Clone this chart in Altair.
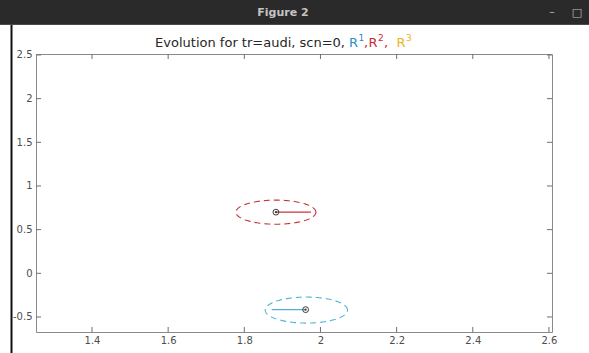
import numpy as np
import pandas as pd
import altair as alt

# Axis ticks
x_ticks = [1.4, 1.6, 1.8, 2.0, 2.2, 2.4, 2.6]
y_ticks = [-0.5, 0.0, 0.5, 1.0, 1.5, 2.0, 2.5]
x_domain = [1.253, 2.608]
y_domain = [-0.672, 2.511]

# Uncertainty ellipses (R^1 in cyan, R^2 in red)
ell_names = ["R1", "R2"]
ell_cx = [1.963, 1.883]
ell_cy = [-0.421, 0.700]
ell_rx = [0.108, 0.105]
ell_ry = [0.149, 0.138]
ell_colors = ["#4fb3d9", "#c9343f"]

# Current positions and their heading segments
pos_x = [1.961, 1.883]
pos_y = [-0.416, 0.700]
seg_x2 = [1.872, 1.975]
seg_colors = ["#4a4a4a", "#e0262e"]

W, H = 516, 278
FONT = "DejaVu Sans"

# ellipse outlines
rows = []
for name, cx, cy, rx, ry in zip(ell_names, ell_cx, ell_cy, ell_rx, ell_ry):
    for i, t in enumerate(np.linspace(0, 2 * np.pi, 181)):
        rows.append({"name": name, "i": i, "x": cx + rx * np.cos(t), "y": cy + ry * np.sin(t)})
ell_df = pd.DataFrame(rows)

pos_df = pd.DataFrame({"name": ell_names, "x": pos_x, "y": pos_y, "x2": seg_x2})

xs = alt.Scale(domain=x_domain, nice=False, zero=False)
ys = alt.Scale(domain=y_domain, nice=False, zero=False)

x_axis = alt.Axis(values=x_ticks, labelExpr="toString(datum.value)", ticks=False, domain=False,
                  grid=False, title=None, labelFont=FONT, labelFontSize=10, labelColor="#4d4d4d",
                  labelPadding=3)
y_axis = alt.Axis(values=y_ticks, labelExpr="toString(datum.value)", ticks=False, domain=False,
                  grid=False, title=None, labelFont=FONT, labelFontSize=10, labelColor="#4d4d4d",
                  labelPadding=4)

ellipses = alt.Chart(ell_df).mark_line(strokeDash=[6, 4], strokeWidth=1.1).encode(
    x=alt.X("x:Q", scale=xs, axis=x_axis),
    y=alt.Y("y:Q", scale=ys, axis=y_axis),
    detail="name:N",
    order="i:Q",
    color=alt.Color("name:N", scale=alt.Scale(domain=ell_names, range=ell_colors), legend=None),
)

segments = alt.Chart(pos_df).mark_rule(strokeWidth=1.1).encode(
    x=alt.X("x:Q", scale=xs), x2="x2:Q",
    y=alt.Y("y:Q", scale=ys),
    color=alt.Color("name:N", scale=alt.Scale(domain=ell_names, range=seg_colors), legend=None),
)

rings = alt.Chart(pos_df).mark_point(shape="circle", filled=False, size=34, stroke="#3a3a3a",
                                     strokeWidth=1, opacity=1).encode(
    x=alt.X("x:Q", scale=xs), y=alt.Y("y:Q", scale=ys))
dots = alt.Chart(pos_df).mark_point(shape="circle", filled=True, size=5, color="#3a3a3a",
                                    opacity=1).encode(
    x=alt.X("x:Q", scale=xs), y=alt.Y("y:Q", scale=ys))

# inward tick marks on all four sides of the box
xt = pd.DataFrame({"v": x_ticks})
yt = pd.DataFrame({"v": y_ticks})
tick_style = dict(color="#6e6e6e", strokeWidth=1)
ticks_bottom = alt.Chart(xt).mark_rule(**tick_style).encode(
    x=alt.X("v:Q", scale=xs), y=alt.value(H), y2=alt.value(H - 5))
ticks_top = alt.Chart(xt).mark_rule(**tick_style).encode(
    x=alt.X("v:Q", scale=xs), y=alt.value(0), y2=alt.value(5))
ticks_left = alt.Chart(yt).mark_rule(**tick_style).encode(
    y=alt.Y("v:Q", scale=ys), x=alt.value(0), x2=alt.value(5))
ticks_right = alt.Chart(yt).mark_rule(**tick_style).encode(
    y=alt.Y("v:Q", scale=ys), x=alt.value(W), x2=alt.value(W - 5))

one = pd.DataFrame({"k": [0]})

# window frame
title_bar = alt.Chart(one).mark_rect(color="#2a2a2a").encode(
    x=alt.value(-36), x2=alt.value(W + 37), y=alt.value(-54), y2=alt.value(-29))
bar_edge = alt.Chart(one).mark_rule(color="#4a4a4a").encode(
    x=alt.value(-36), x2=alt.value(W + 37), y=alt.value(-29.5))
side_edge = alt.Chart(one).mark_rule(color="#111111", strokeWidth=2).encode(
    x=alt.value(-24.5), y=alt.value(-29), y2=alt.value(H + 21))


def label(text, x, y, color, size=13, align="left", weight="normal", font=FONT):
    return alt.Chart(one).mark_text(text=text, align=align, baseline="alphabetic", fontSize=size,
                                    font=font, fontWeight=weight, color=color).encode(
        x=alt.value(x), y=alt.value(y))


win_title = label("Figure 2", 247, -38, "#c4c4c4", size=11, align="center", weight="bold")
win_min = label("–", 516, -39, "#bdbdbd", size=11, align="center")
win_max = label("□", 541, -38, "#bdbdbd", size=11, align="center")

# plot title with coloured superscripted names
c_blue, c_red, c_yel = "#2a8fcf", "#c92a3a", "#e8b52a"
title_parts = [
    label("Evolution for tr=audi, scn=0,", 309, -7, "#262626", align="right"),
    label("R", 313, -7, c_blue),
    label("1", 322.5, -13, c_blue, size=9),
    label(",", 328, -7, c_red),
    label("R", 332.5, -7, c_red),
    label("2", 342, -13, c_red, size=9),
    label(",", 348, -7, c_red),
    label("R", 360.5, -7, c_yel),
    label("3", 370, -13, c_yel, size=9),
]

chart = alt.layer(
    title_bar, bar_edge, side_edge,
    ellipses, segments, rings, dots,
    ticks_bottom, ticks_top, ticks_left, ticks_right,
    win_title, win_min, win_max, *title_parts,
).properties(
    width=W, height=H,
    padding={"left": 36, "top": 54, "right": 37, "bottom": 21},
    autosize=alt.AutoSizeParams(type="none"),
    background="white",
).configure_view(stroke="#8a8a8a", strokeWidth=1)

chart.save("out.html", embed_options={"renderer": "svg", "actions": False})
